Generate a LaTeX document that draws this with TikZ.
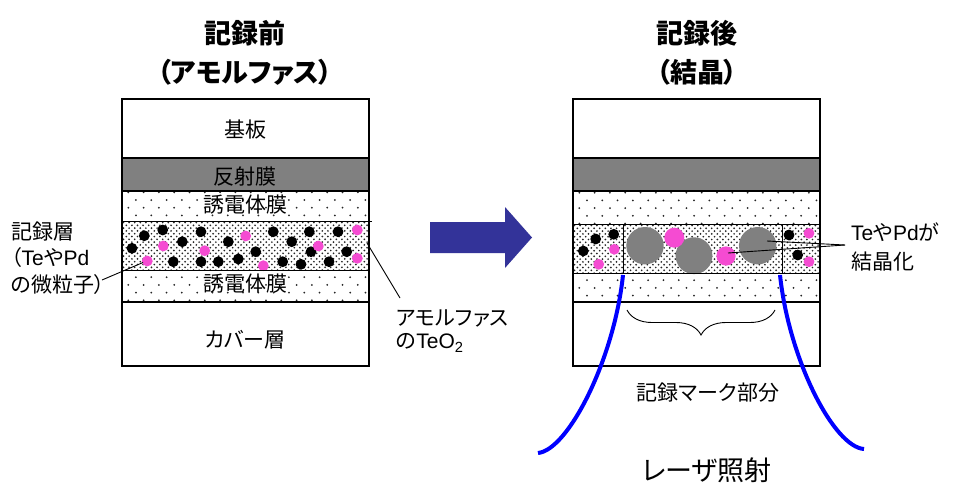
\documentclass[tikz,border=0pt]{standalone}
\usepackage{fontspec}
\setmainfont{Liberation Sans}
\newfontfamily\jp{Noto Sans CJK JP}[RawFeature=+palt]
\usetikzlibrary{decorations.pathreplacing}
\definecolor{pinkdot}{RGB}{245,75,210}
\definecolor{arrowblue}{RGB}{51,51,153}
\definecolor{layergray}{RGB}{128,128,128}
\definecolor{laserblue}{RGB}{0,0,255}
\newcommand\latn[1]{{\rmfamily #1}}
\newcommand\sparsedots[5]{%
 \begin{scope}
 \clip (#1,#2) rectangle (#3,#4);
 \foreach \r in {0,...,5}{
  \foreach \c in {0,...,17}{
   \pgfmathsetmacro\px{#1+6.3+\c*15.3+mod(\r,2)*7.65}
   \pgfmathsetmacro\py{#5+\r*7.7}
   \fill[black!85] (\px,\py) circle (1.0);
  }}
 \end{scope}}
\newcommand\densedots[4]{%
 \begin{scope}
 \clip (#1,#2) rectangle (#3,#4);
 \foreach \r in {0,...,18}{
  \foreach \c in {0,...,45}{
   \pgfmathsetmacro\px{#1+1.5+\c*5.6+mod(\r,2)*2.8}
   \pgfmathsetmacro\py{#2+1.5+\r*2.8}
   \fill[black!85] (\px,\py) circle (0.95);
  }}
 \end{scope}}
\tikzset{
  title/.style={font=\jp\bfseries\fontsize{27pt}{30pt}\selectfont, inner sep=0pt},
  layertext/.style={font=\jp\fontsize{21pt}{24pt}\selectfont, inner sep=0pt},
  labeltext/.style={font=\jp\fontsize{21pt}{24pt}\selectfont, inner sep=0pt, anchor=west},
  border/.style={draw=black, line width=1.2pt},
  thin/.style={draw=black, line width=0.9pt},
  blackdot/.style={fill=black},
  pinkp/.style={fill=pinkdot},
  crystal/.style={fill=layergray},
  laser/.style={draw=laserblue, line width=4pt},
  leader/.style={draw=black, line width=0.9pt},
}
\begin{document}
\begin{tikzpicture}[x=1pt,y=-1pt]
\useasboundingbox (0,0) rectangle (957,482);

% ---------------- LEFT STACK ----------------
\fill[white] (122,99) rectangle (369,366);
\fill[layergray] (122,158) rectangle (369,191);
\sparsedots{122}{191}{369}{221}{192.3}
\densedots{122}{221}{369}{270}
\sparsedots{122}{270}{369}{302}{269.5}
% particles
\foreach \x/\y in {144.3/235.7,162.7/230,132/248.3,182.3/241.7,173.3/261.7,201/231.7,201/261.7,218.3/261.7,228.3/241.7,238.3/259,255.7/251.7,273.3/231.7,291.7/241.7,282.7/261.7,301/264.3,309.3/231.7,311/251.7,329/261.7,338/231.7,346.7/251.7}
  \fill[blackdot] (\x,\y) circle (5.4);
\foreach \x/\y in {147.3/261,163.3/246,204.7/250.7,245.7/236,263.3/265.7,318.3/246,357.3/230,357.3/258.3}
  \fill[pinkp] (\x,\y) circle (5.4);
% borders
\draw[border] (122,99) rectangle (369,366);
\draw[border] (122,158) -- (369,158);
\draw[border] (122,191) -- (369,191);
\draw[thin] (122,221) -- (372,221);
\draw[thin] (122,270) -- (369,270);
\draw[border] (122,302) -- (369,302);

\node[layertext] (kiban) at (245,130) {基板};
\node[layertext] (hansha) at (245,177) {反射膜};
\node[layertext] (yuden1) at (245,205) {誘電体膜};
\node[layertext] (yuden2) at (245,284) {誘電体膜};
\node[layertext] (cover) at (245,340) {カバー層};

\node[title] (t1) at (245,33) {記録前};
\node[title] (t2) at (245,72) {（アモルファス）};

% left labels
\node[labeltext] (lab1) at (11,232) {記録層};
\node[labeltext] (lab2) at (11,258) {（\latn{Te}や\latn{Pd}};
\node[labeltext] (lab3) at (11,285) {の微粒子）};
\coordinate (p1) at (102,280);
\coordinate (p2) at (143,262.5);
\draw[leader] (p1) -- (p2);

\node[labeltext] (am1) at (396,318) {アモルファス};
\node[labeltext] (am2) at (396,343) {の\latn{TeO\textsubscript{2}}};
\coordinate (q1) at (367,243);
\coordinate (q2) at (400,298);
\draw[leader] (q1) -- (q2);

% ---------------- ARROW ----------------
\fill[arrowblue] (430,222) -- (505,222) -- (505,207) -- (532,237.5) -- (505,268) -- (505,253) -- (430,253) -- cycle;

% ---------------- RIGHT STACK ----------------
\fill[white] (573,99) rectangle (820,366);
\fill[layergray] (573,158) rectangle (820,191);
\sparsedots{573}{191}{820}{224}{192.7}
\densedots{573}{224}{820}{273}
\sparsedots{573}{273}{820}{302}{272.5}
\foreach \x/\y in {595.7/239,613.7/234.3,583.3/251,789/235,797.7/255}
  \fill[blackdot] (\x,\y) circle (5.4);
\foreach \x/\y in {614.3/249.3,598.7/264.3,809/233.3,809/261.7}
  \fill[pinkp] (\x,\y) circle (5.4);
\fill[crystal] (645,245.7) circle (18.7);
\fill[crystal] (694,255.7) circle (18.4);
\fill[crystal] (757.7,245.7) circle (18.7);
\fill[pinkp] (674.3,237.7) circle (10);
\fill[pinkp] (726,256) circle (9.6);

\draw[border] (573,99) rectangle (820,366);
\draw[border] (573,158) -- (820,158);
\draw[border] (573,191) -- (820,191);
\draw[thin] (573,224) -- (820,224);
\draw[thin] (573,273) -- (820,273);
\draw[border] (573,302) -- (820,302);
\draw[thin] (623,224) -- (623,273);
\draw[thin] (782,224) -- (782,273);

\node[title] (t3) at (697,33) {記録後};
\node[title] (t4) at (697,72) {（結晶）};

\node[labeltext] (cr1) at (851,232) {\latn{Te}や\latn{Pd}が};
\node[labeltext] (cr2) at (851,262) {結晶化};
\coordinate (r0) at (845,245);
\coordinate (r1) at (767,241);
\coordinate (r2) at (728,253);
\draw[leader] (r0) -- (r1);
\draw[leader] (r0) -- (r2);

% brace
\coordinate (b1) at (627,310);
\coordinate (b2) at (775,310);
\draw[line width=0.9pt, decorate, decoration={brace, mirror, amplitude=25pt}] (b1) -- (b2);
\node[layertext] (mark) at (708,393) {記録マーク部分};

% laser
\coordinate (l1) at (623,275);
\coordinate (l2) at (538,453);
\coordinate (m1) at (780,275);
\coordinate (m2) at (864,449);
\draw[laser] (l1) .. controls (614,360) and (568,450) .. (l2);
\draw[laser] (m1) .. controls (789,360) and (834,447) .. (m2);
\node[font=\jp\fontsize{27pt}{30pt}\selectfont, inner sep=0pt] (laserlab) at (707,470) {レーザ照射};
\end{tikzpicture}
\end{document}
